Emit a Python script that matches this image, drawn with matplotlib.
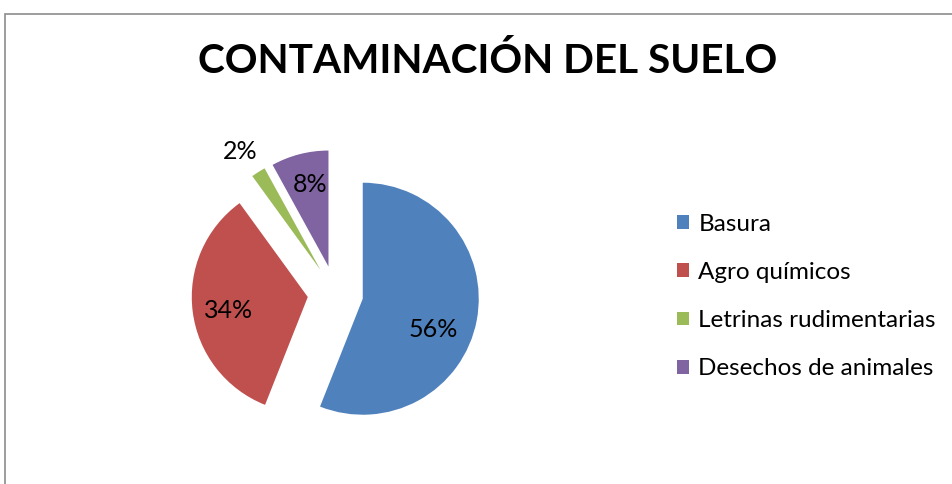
import matplotlib
matplotlib.use("Agg")
import matplotlib.pyplot as plt
from matplotlib.patches import Rectangle

## Datos
categorias = ["Basura", "Agro químicos", "Letrinas rudimentarias", "Desechos de animales"]
porcentajes = [56, 34, 2, 8]
colores = ["#4F81BD", "#C0504D", "#9BBB59", "#8064A2"]
titulo = "CONTAMINACIÓN DEL SUELO"

# posicion de las etiquetas (en unidades del radio)
pos_etiquetas = [(0.84, -0.31), (-0.92, -0.15), (-0.82, 1.22), (-0.22, 0.94)]

plt.rcParams['font.family'] = ['Lato', 'DejaVu Sans']

W, H = 953, 484
fig = plt.figure(figsize=(W/100, H/100), dpi=100)

# marco gris del grafico
fig.patches.append(Rectangle((5.5/W, -0.1), 1.2, (H-13.5)/H + 0.1,
                             transform=fig.transFigure, fill=False,
                             edgecolor="#8C8C8C", linewidth=1.2))

# ejes del pie: centro (335, 293.5) px, radio 116 px
R = 116
cx, cy = 335.4, H - 293.5
lim = 1.6
lado = 2*lim*R
ax = fig.add_axes([(cx - lado/2)/W, (cy - lado/2)/H, lado/W, lado/H])

wedges, _ = ax.pie(porcentajes, colors=colores, startangle=90, counterclock=False,
                   explode=[0.24]*4, radius=1, wedgeprops=dict(linewidth=0))
for (x, y), p in zip(pos_etiquetas, porcentajes):
    ax.text(x, y, f"{p}%", ha="center", va="center", fontsize=18, color="black")
ax.set_xlim(-lim, lim)
ax.set_ylim(-lim, lim)
ax.set_aspect("equal")
ax.axis("off")

fig.text(488/W, 1 - 61/H, titulo, ha="center", va="center",
         fontsize=29.2, fontweight="bold", color="black")

fig.legend(wedges, categorias, loc="center left",
           bbox_to_anchor=(677/W, 1 - 296.5/H), frameon=False,
           fontsize=17.5, handlelength=0.5, handleheight=0.5,
           handletextpad=0.38, labelspacing=1.12, borderaxespad=0,
           borderpad=0)

fig.savefig("out.png", dpi=100)
